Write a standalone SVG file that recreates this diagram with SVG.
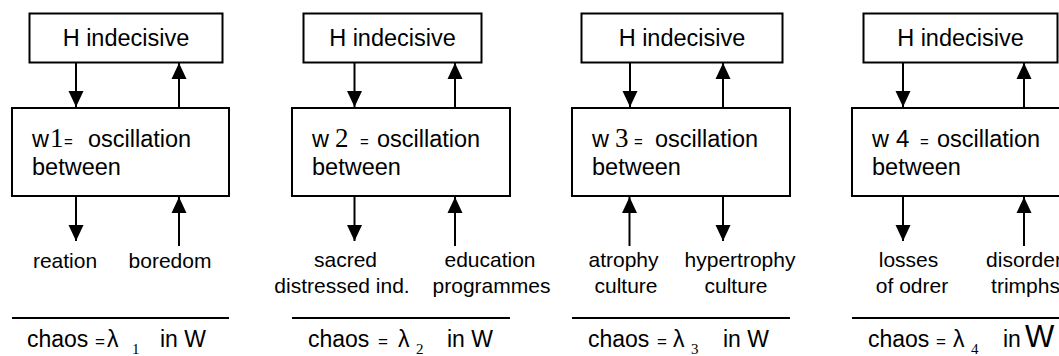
<svg xmlns="http://www.w3.org/2000/svg" width="1059" height="356" viewBox="0 0 1059 356">
<style>
.box{fill:#fff;stroke:#000;stroke-width:2}
.ln{stroke:#000;stroke-width:2;fill:none}
.arr{stroke:#000;stroke-width:2;fill:none;marker-end:url(#ah)}
text{font-family:"Liberation Sans",Arial,sans-serif;fill:#000}
.h{font-size:23.5px;text-anchor:middle}
.m{font-size:23.5px}
.d{font-family:"Liberation Serif","Times New Roman",serif;font-size:27px}
.ds{font-size:24px}
.eq{font-size:15px}
.lb{font-size:21px;text-anchor:middle}
.c{font-size:23px}
.ce{font-size:17px}
.sub{font-family:"Liberation Serif","Times New Roman",serif;font-size:15px}
</style>
<defs>
<marker id="ah" markerUnits="userSpaceOnUse" markerWidth="16" markerHeight="16" refX="16" refY="8" orient="auto">
<path d="M0,0.5 L16,8 L0,15.5 z" fill="#000"/>
</marker>
</defs>
<rect width="1059" height="356" fill="#fff"/>

<g id="connectors">
<line class="arr" x1="76" y1="63" x2="76" y2="107"/>
<line class="arr" x1="179" y1="108" x2="179" y2="63"/>
<line class="arr" x1="76" y1="196" x2="76" y2="241"/>
<line class="arr" x1="179" y1="246" x2="179" y2="197"/>

<line class="arr" x1="354.5" y1="63" x2="354.5" y2="107"/>
<line class="arr" x1="455" y1="108" x2="455" y2="63"/>
<line class="arr" x1="354.5" y1="196" x2="354.5" y2="241"/>
<line class="arr" x1="455" y1="246" x2="455" y2="197"/>

<line class="arr" x1="630" y1="63" x2="630" y2="107"/>
<line class="arr" x1="723" y1="108" x2="723" y2="63"/>
<line class="arr" x1="629.5" y1="246" x2="629.5" y2="197"/>
<line class="arr" x1="723" y1="196" x2="723" y2="241"/>

<line class="arr" x1="903" y1="63" x2="903" y2="107"/>
<line class="arr" x1="1024" y1="108" x2="1024" y2="63"/>
<line class="arr" x1="903" y1="196" x2="903" y2="241"/>
<line class="arr" x1="1024" y1="246" x2="1024" y2="197"/>
</g>

<g id="h1"><rect class="box" x="29.5" y="13.5" width="193" height="49"/><text class="h" x="126" y="46">H indecisive</text></g>
<g id="h2"><rect class="box" x="303.5" y="13.5" width="178" height="49"/><text class="h" x="392.5" y="46">H indecisive</text></g>
<g id="h3"><rect class="box" x="581.5" y="13.5" width="201" height="49"/><text class="h" x="682" y="46">H indecisive</text></g>
<g id="h4"><rect class="box" x="863.5" y="13.5" width="194" height="49"/><text class="h" x="960.5" y="46">H indecisive</text></g>

<g id="w1"><rect class="box" x="12" y="108" width="217" height="88"/>
<text class="m" x="32" y="147">w<tspan class="d" x="50">1</tspan><tspan class="eq" x="64">=</tspan><tspan x="88">oscillation</tspan></text>
<text class="m" x="32" y="175">between</text></g>
<g id="w2"><rect class="box" x="292" y="108" width="218" height="88"/>
<text class="m" x="312" y="147">w<tspan class="d" x="335">2</tspan><tspan class="eq" x="360">=</tspan><tspan x="377">oscillation</tspan></text>
<text class="m" x="312" y="175">between</text></g>
<g id="w3"><rect class="box" x="572" y="108" width="218" height="88"/>
<text class="m" x="592" y="147">w<tspan class="d" x="615">3</tspan><tspan class="eq" x="634">=</tspan><tspan x="655">oscillation</tspan></text>
<text class="m" x="592" y="175">between</text></g>
<g id="w4"><rect class="box" x="852" y="108" width="218" height="88"/>
<text class="m" x="872" y="147">w<tspan class="ds" x="896">4</tspan><tspan class="eq" x="920">=</tspan><tspan x="937">oscillation</tspan></text>
<text class="m" x="872" y="175">between</text></g>

<g id="l1a"><text class="lb" x="65" y="268">reation</text></g>
<g id="l1b"><text class="lb" x="170" y="268">boredom</text></g>
<g id="l2a"><text class="lb" x="345.5" y="267">sacred</text><text class="lb" x="342" y="293">distressed ind.</text></g>
<g id="l2b"><text class="lb" x="490" y="267">education</text><text class="lb" x="491.5" y="293">programmes</text></g>
<g id="l3a"><text class="lb" x="623.5" y="267">atrophy</text><text class="lb" x="626" y="293">culture</text></g>
<g id="l3b"><text class="lb" x="740" y="267">hypertrophy</text><text class="lb" x="736" y="293">culture</text></g>
<g id="l4a"><text class="lb" x="908.5" y="267">losses</text><text class="lb" x="912" y="293">of odrer</text></g>
<g id="l4b"><text class="lb" x="1024" y="267">disorder</text><text class="lb" x="1025.5" y="293">trimphs</text></g>

<g id="chaos">
<line class="ln" x1="12" y1="318" x2="229" y2="318"/>
<line class="ln" x1="292" y1="318" x2="510" y2="318"/>
<line class="ln" x1="572" y1="318" x2="790" y2="318"/>
<line class="ln" x1="852" y1="318" x2="1059" y2="318"/>
<text class="c" y="347"><tspan x="27">chaos</tspan><tspan class="ce" x="95">=</tspan><tspan x="107">λ</tspan><tspan class="sub" x="132" y="354">1</tspan><tspan x="160" y="347">in W</tspan></text>
<text class="c" y="347"><tspan x="308">chaos</tspan><tspan class="ce" x="378">=</tspan><tspan x="398">λ</tspan><tspan class="sub" x="416" y="354">2</tspan><tspan x="447" y="347">in W</tspan></text>
<text class="c" y="347"><tspan x="588">chaos</tspan><tspan class="ce" x="657">=</tspan><tspan x="673">λ</tspan><tspan class="sub" x="691" y="354">3</tspan><tspan x="723" y="347">in W</tspan></text>
<text class="c" y="347"><tspan x="868">chaos</tspan><tspan class="ce" x="936">=</tspan><tspan x="953">λ</tspan><tspan class="sub" x="971" y="354">4</tspan><tspan x="1003" y="347">in</tspan><tspan x="1025" style="font-size:31px">W</tspan></text>
</g>
</svg>
